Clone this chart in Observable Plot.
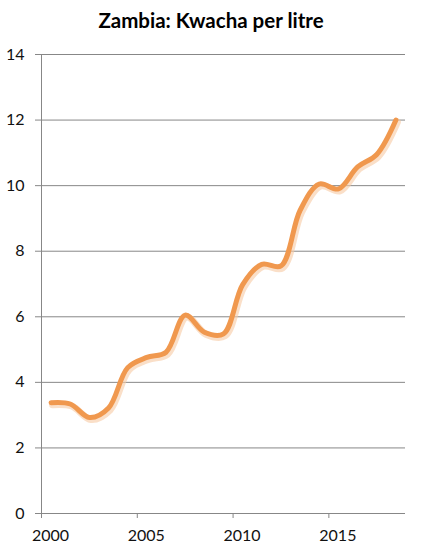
<!DOCTYPE html>
<html>
<head>
<meta charset="utf-8">
<script src="https://cdn.jsdelivr.net/npm/d3@7"></script>
<script src="https://cdn.jsdelivr.net/npm/@observablehq/plot@0.6"></script>
<style>
  body { margin: 0; background: #fff; font-family: Lato, "Open Sans", sans-serif; }
  #title { height: 40px; line-height: 40px; font-size: 20.5px; font-weight: bold; text-align: center; width: 422px; color: #000; }
  svg { display: block; }
</style>
</head>
<body>
<div id="title">Zambia: Kwacha per litre</div>
<div id="chart"></div>
<script>
const years = [2000, 2001, 2002, 2003, 2004, 2005, 2006, 2007, 2008, 2009, 2010, 2011, 2012, 2013, 2014, 2015, 2016, 2017, 2018];
const kwacha = [3.38, 3.34, 2.93, 3.22, 4.45, 4.76, 4.92, 6.05, 5.53, 5.48, 6.98, 7.6, 7.55, 9.25, 10.05, 9.9, 10.57, 10.95, 12.0];
const xTicks = [2000, 2005, 2010, 2015];
const yTicks = [0, 2, 4, 6, 8, 10, 12, 14];

const data = years.map((y, i) => ({ x: y + 0.5, value: kwacha[i] }));

const chart = Plot.plot({
  width: 425,
  height: 515,
  marginTop: 14,
  marginBottom: 42,
  marginLeft: 41,
  marginRight: 20,
  style: { fontFamily: "Lato, 'Open Sans', sans-serif", fontSize: "16px", color: "#000", background: "#fff" },
  x: { domain: [2000, 2019], ticks: xTicks, tickFormat: "d", label: null },
  y: { domain: [0, 14], ticks: yTicks, label: null },
  marks: [
    Plot.gridY(yTicks, { stroke: "#878787", strokeOpacity: 1, strokeWidth: 1 }),
    Plot.ruleX([2000], { stroke: "#878787", strokeWidth: 1 }),
    Plot.axisY(yTicks, { tickSize: 6, tickPadding: 11, stroke: "#878787", fontSize: 16, fill: "#111" }),
    Plot.axisX(xTicks, { tickSize: 5, stroke: "#878787", tickFormat: () => "" }),
    Plot.axisX(xTicks, { tickSize: 0, tickPadding: 16, dx: 9, fontSize: 16, fill: "#111", tickFormat: "d" }),
    Plot.lineY(data, { x: "x", y: "value", stroke: "#f7c9a3", strokeWidth: 7, curve: "catmull-rom", dx: 1.5, dy: 2, strokeOpacity: 0.6 }),
    Plot.lineY(data, { x: "x", y: "value", stroke: "#f0984e", strokeWidth: 5, curve: "catmull-rom", strokeLinecap: "round" })
  ]
});
document.getElementById("chart").appendChild(chart);
</script>
</body>
</html>
